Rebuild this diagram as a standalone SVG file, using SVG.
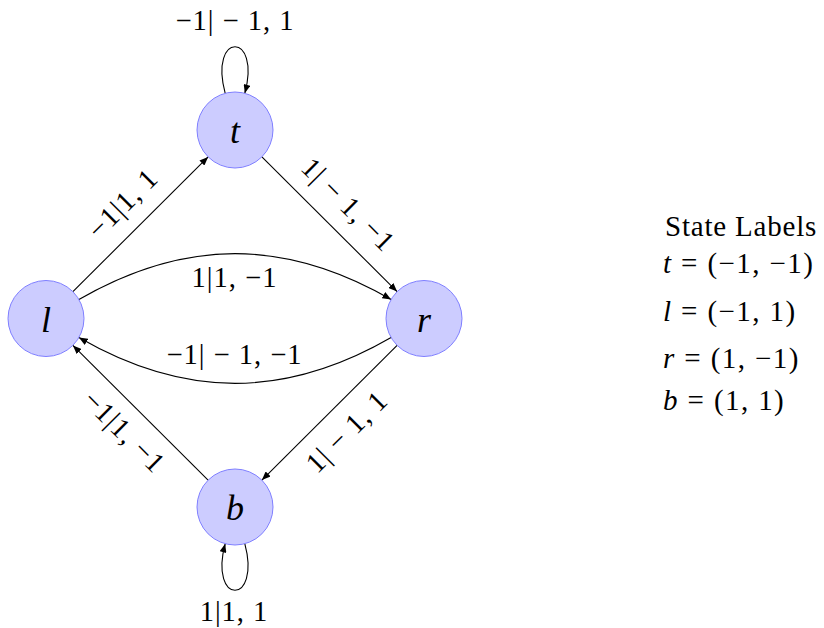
<svg xmlns="http://www.w3.org/2000/svg" width="824" height="628" viewBox="0 0 824 628" font-family="'Liberation Serif', 'Times New Roman', serif">
<defs>
  <marker id="arr" viewBox="0 0 10 8" refX="10" refY="4" markerWidth="9" markerHeight="7" markerUnits="userSpaceOnUse" orient="auto">
    <path d="M0,0 L10,4 L0,8 z" fill="#000"/>
  </marker>
</defs>
<rect width="824" height="628" fill="#fff"/>

<g id="connectors" fill="none" stroke="#000" stroke-width="1.1" marker-end="url(#arr)">
  <path d="M72.9,291.6 L208.1,156.9"/>
  <path d="M261.9,156.9 L397.1,291.6"/>
  <path d="M397.1,345.4 L261.9,480.1"/>
  <path d="M208.1,480.1 L72.9,345.4"/>
  <path d="M78.9,299.5 C184.7,238.4 285.3,238.4 391.1,299.5"/>
  <path d="M391.1,337.5 C285.3,398.6 184.7,398.6 78.9,337.5"/>
  <path d="M225.2,93.3 C208.5,31.2 261.5,31.2 244.8,93.3"/>
  <path d="M244.8,543.7 C261.4,605.7 208.6,605.7 225.2,543.7"/>
</g>

<text font-family="Liberation Serif" font-size="28.5" text-anchor="middle" letter-spacing="1" x="235" y="30">−1| − 1, 1</text>
<text font-family="Liberation Serif" font-size="28.5" text-anchor="middle" letter-spacing="1" x="234.5" y="287">1|1, −1</text>
<text font-family="Liberation Serif" font-size="28.5" text-anchor="middle" letter-spacing="1" x="234.5" y="364">−1| − 1, −1</text>
<text font-family="Liberation Serif" font-size="28.5" text-anchor="middle" letter-spacing="1" x="234" y="621">1|1, 1</text>
<text font-family="Liberation Serif" font-size="28.5" text-anchor="middle" letter-spacing="1" transform="translate(123,204) rotate(-45)" x="0" y="9">−1|1, 1</text>
<text font-family="Liberation Serif" font-size="28.5" text-anchor="middle" letter-spacing="1" transform="translate(348,205) rotate(45)" x="0" y="9">1| − 1, −1</text>
<text font-family="Liberation Serif" font-size="28.5" text-anchor="middle" letter-spacing="1" transform="translate(347,432) rotate(-45)" x="0" y="9">1| − 1, 1</text>
<text font-family="Liberation Serif" font-size="28.5" text-anchor="middle" letter-spacing="1" transform="translate(124,432) rotate(45)" x="0" y="9">−1|1, −1</text>

<g id="node-t"><circle cx="235" cy="130" r="38" fill="#ccccff" stroke="#7f7fff"/><text font-family="Liberation Serif" font-style="italic" font-size="36" text-anchor="middle" x="235" y="143">t</text></g>
<g id="node-l"><circle cx="46" cy="318.5" r="38" fill="#ccccff" stroke="#7f7fff"/><text font-family="Liberation Serif" font-style="italic" font-size="36" text-anchor="middle" x="46" y="331.5">l</text></g>
<g id="node-r"><circle cx="424" cy="318.5" r="38" fill="#ccccff" stroke="#7f7fff"/><text font-family="Liberation Serif" font-style="italic" font-size="36" text-anchor="middle" x="424" y="331.5">r</text></g>
<g id="node-b"><circle cx="235" cy="507" r="38" fill="#ccccff" stroke="#7f7fff"/><text font-family="Liberation Serif" font-style="italic" font-size="36" text-anchor="middle" x="235" y="520">b</text></g>

<text font-family="Liberation Serif" font-size="29" letter-spacing="0.8" x="665" y="236">State Labels</text>
<text font-family="Liberation Serif" font-size="29" letter-spacing="1.4" x="663" y="273"><tspan font-style="italic">t</tspan> = (−1, −1)</text>
<text font-family="Liberation Serif" font-size="29" letter-spacing="1.4" x="663" y="321"><tspan font-style="italic">l</tspan> = (−1, 1)</text>
<text font-family="Liberation Serif" font-size="29" letter-spacing="1.4" x="663" y="368"><tspan font-style="italic">r</tspan> = (1, −1)</text>
<text font-family="Liberation Serif" font-size="29" letter-spacing="1.4" x="663" y="410"><tspan font-style="italic">b</tspan> = (1, 1)</text>
</svg>
